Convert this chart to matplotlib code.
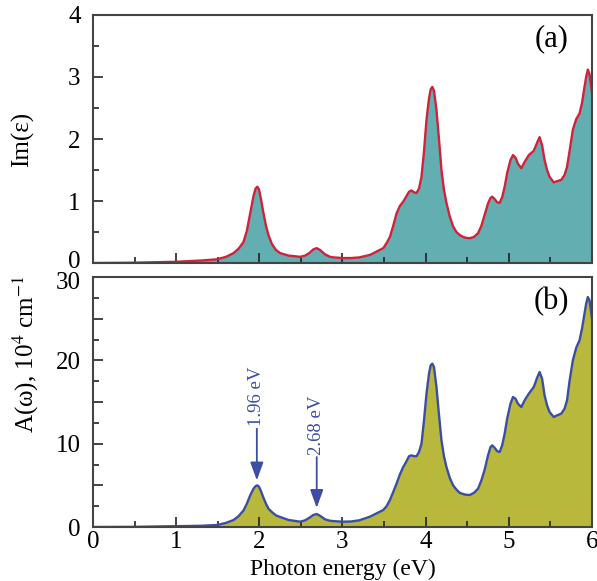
import matplotlib
matplotlib.use("Agg")
import matplotlib.pyplot as plt
from matplotlib.ticker import MultipleLocator, FuncFormatter
from matplotlib.transforms import ScaledTranslation

plt.rcParams['font.family'] = ['Liberation Serif', 'DejaVu Serif']
plt.rcParams['mathtext.fontset'] = 'stix'

# photon energy (eV)
energy = [0, 0.5, 1.0, 1.3, 1.49, 1.6, 1.69, 1.75, 1.81, 1.85, 1.89, 1.93, 1.955, 1.975,
          1.995, 2.02, 2.05, 2.08, 2.11, 2.15, 2.2, 2.25, 2.35, 2.49, 2.55, 2.6, 2.65,
          2.69, 2.73, 2.79, 2.85, 2.9, 3.0, 3.1, 3.2, 3.33, 3.49, 3.53, 3.57, 3.61,
          3.65, 3.69, 3.73, 3.77, 3.80, 3.83, 3.86, 3.89, 3.92, 3.95, 3.98, 4.01, 4.04,
          4.06, 4.08, 4.10, 4.13, 4.16, 4.19, 4.22, 4.25, 4.29, 4.33, 4.37, 4.41, 4.47,
          4.53, 4.58, 4.63, 4.67, 4.71, 4.75, 4.78, 4.80, 4.83, 4.86, 4.89, 4.92, 4.95,
          4.98, 5.02, 5.05, 5.08, 5.11, 5.15, 5.19, 5.24, 5.30, 5.34, 5.37, 5.40, 5.43,
          5.46, 5.49, 5.54, 5.58, 5.63, 5.67, 5.70, 5.73, 5.77, 5.81, 5.85, 5.88, 5.91,
          5.93, 5.95, 5.97, 5.99, 6.0]

# (a) imaginary part of dielectric function
im_eps = [0, 0.005, 0.02, 0.04, 0.06, 0.10, 0.16, 0.23, 0.34, 0.52, 0.80, 1.08, 1.20, 1.23,
          1.19, 1.03, 0.80, 0.60, 0.45, 0.31, 0.21, 0.16, 0.12, 0.10, 0.12, 0.16, 0.22,
          0.24, 0.21, 0.14, 0.10, 0.09, 0.08, 0.08, 0.09, 0.13, 0.24, 0.32, 0.42, 0.60,
          0.80, 0.92, 0.99, 1.08, 1.15, 1.17, 1.14, 1.13, 1.20, 1.39, 1.80, 2.31, 2.65,
          2.80, 2.84, 2.78, 2.47, 2.00, 1.50, 1.18, 0.97, 0.75, 0.59, 0.50, 0.45, 0.41,
          0.40, 0.42, 0.48, 0.60, 0.78, 0.96, 1.05, 1.07, 1.03, 0.98, 0.97, 1.06, 1.23,
          1.45, 1.66, 1.74, 1.70, 1.60, 1.53, 1.63, 1.74, 1.81, 1.94, 2.03, 1.90, 1.66,
          1.50, 1.39, 1.30, 1.32, 1.34, 1.42, 1.55, 1.80, 2.15, 2.32, 2.41, 2.58, 2.84,
          3.00, 3.12, 3.05, 2.85, 2.75]

# (b) absorption coefficient, 10^4 cm^-1
absorb = [0, 0.02, 0.1, 0.15, 0.24, 0.5, 0.84, 1.3, 2.0, 2.8, 3.8, 4.6, 4.9, 5.0,
          4.85, 4.3, 3.5, 2.8, 2.2, 1.8, 1.4, 1.2, 0.85, 0.64, 0.8, 1.1, 1.45,
          1.56, 1.35, 0.92, 0.75, 0.7, 0.64, 0.66, 0.8, 1.24, 2.04, 2.5, 3.24, 4.2,
          5.2, 6.3, 7.2, 7.9, 8.5, 8.6, 8.5, 8.5, 9.0, 10.0, 12.8, 16.0, 18.4,
          19.4, 19.6, 19.2, 16.8, 13.5, 10.4, 8.5, 7.2, 5.9, 5.0, 4.5, 4.1, 3.9,
          3.84, 4.1, 4.6, 5.6, 6.9, 8.6, 9.6, 9.8, 9.5, 9.1, 9.0, 9.8, 11.2,
          13.0, 14.8, 15.6, 15.4, 14.8, 14.4, 15.2, 16.0, 16.8, 17.9, 18.6, 17.8, 15.8,
          14.6, 13.8, 13.2, 13.4, 13.6, 14.2, 15.2, 17.5, 20.0, 21.5, 22.4, 23.8, 25.6,
          26.8, 27.6, 27.2, 25.8, 25.0]

assert len(energy) == len(im_eps) == len(absorb)

peaks = [1.96, 2.68]
peak_labels = ['1.96 eV', '2.68 eV']
arrow_tips = [5.6, 2.3]
arrow_tails = [11.8, 8.4]

fig = plt.figure(figsize=(5.97, 5.81), dpi=100)
ax1 = fig.add_axes([0.1558, 0.5473, 0.8358, 0.4269])
ax2 = fig.add_axes([0.1558, 0.0929, 0.8358, 0.4303])

ax1.fill_between(energy, im_eps, 0, color='#62aeb0', lw=0)
ax1.plot(energy, im_eps, color='#d0223a', lw=1.7, solid_joinstyle='round')
ax2.fill_between(energy, absorb, 0, color='#b8b83c', lw=0)
ax2.plot(energy, absorb, color='#3b4ea3', lw=1.7, solid_joinstyle='round')

ax1.set_ylim(0, 4)
ax2.set_ylim(0, 30)
for ax in (ax1, ax2):
    ax.set_xlim(0, 6)
    ax.xaxis.set_major_locator(MultipleLocator(1))
    ax.xaxis.set_minor_locator(MultipleLocator(0.5))
    ax.tick_params(which='both', direction='in', top=False, right=False,
                   labelsize=18, color='#222222', width=1.2)
    ax.tick_params(which='major', length=7)
    ax.tick_params(which='minor', length=4)
    ax.tick_params(axis='y', pad=9)
    ax.tick_params(axis='x', pad=3)
    for s in ax.spines.values():
        s.set_color('#444444')
        s.set_linewidth(1.5)

ax1.yaxis.set_major_locator(MultipleLocator(1))
ax1.yaxis.set_minor_locator(MultipleLocator(0.5))
ax1.set_xticklabels([])
ax2.yaxis.set_major_locator(MultipleLocator(5))
ax2.yaxis.set_minor_locator(MultipleLocator(2.5))
ax2.yaxis.set_major_formatter(FuncFormatter(lambda v, p: f'{int(v)}' if v % 10 == 0 else ''))

# nudge the "0" of (a) up and the "30" of (b) down so they don't touch
fig.canvas.draw()
for t in ax1.yaxis.get_major_ticks():
    if abs(t.get_loc()) < 1e-9:
        t.label1.set_transform(t.label1.get_transform() + ScaledTranslation(0, 2.5 / 72, fig.dpi_scale_trans))
for t in ax2.yaxis.get_major_ticks():
    if abs(t.get_loc() - 30) < 1e-9:
        t.label1.set_transform(t.label1.get_transform() + ScaledTranslation(0, -2.5 / 72, fig.dpi_scale_trans))

ax1.set_ylabel('Im(ε)', fontsize=18)
ax1.yaxis.set_label_coords(-0.118, 0.5)
ax2.set_ylabel(r'A(ω), 10$^4$ cm$^{-1}$', fontsize=18)
ax2.yaxis.set_label_coords(-0.104, 0.69)
ax2.set_xlabel('Photon energy (eV)', fontsize=17, labelpad=4)

ax1.text(0.918, 0.905, '(a)', transform=ax1.transAxes, fontsize=22, ha='center', va='center')
ax2.text(0.918, 0.90, '(b)', transform=ax2.transAxes, fontsize=22, ha='center', va='center')

for e, lab, tip, tail in zip(peaks, peak_labels, arrow_tips, arrow_tails):
    ax2.annotate('', xy=(e + 0.01, tip), xytext=(e + 0.01, tail),
                 arrowprops=dict(arrowstyle='-|>,head_length=1.1,head_width=0.4',
                                 color='#3b4ea3', lw=1.3, shrinkA=0, shrinkB=0))
    ax2.text(e + 0.01, tail + 0.3, lab, rotation=90, ha='center', va='bottom',
             fontsize=13.5, color='#3b4ea3')

fig.savefig('out.png', dpi=100)
